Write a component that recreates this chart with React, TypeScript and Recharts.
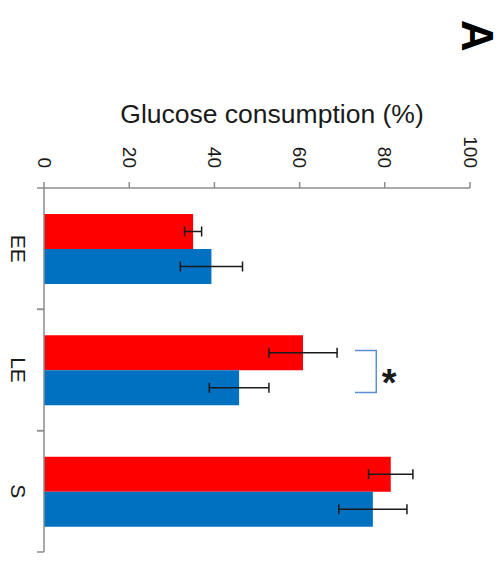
import { Bar, BarChart, ErrorBar, LabelList, XAxis, YAxis } from "recharts";

// values (percent of glucose consumed)
const categories = ["EE", "LE", "S"];
const redValues = [35, 60.8, 81.4];
const redErrors = [2, 8, 5.2];
const blueValues = [39.3, 45.8, 77.2];
const blueErrors = [7.3, 7, 8];
const significance = ["", "*", ""];
const xTicks = [0, 20, 40, 60, 80, 100];

const data = categories.map((name, i) => ({
  name,
  red: redValues[i],
  redErr: redErrors[i],
  blue: blueValues[i],
  blueErr: blueErrors[i],
  sig: significance[i],
}));

const FONT = "'Liberation Sans', Arial, Helvetica, sans-serif";
const AXIS = "#8c8c8c";
const INK = "#1a1a1a";

// tick labels are turned a quarter clockwise, as in the figure
function ValueTick({ x, y, payload }: any) {
  return (
    <text
      x={x}
      y={y}
      transform={`rotate(90, ${x}, ${y})`}
      textAnchor="end"
      dominantBaseline="central"
      fontSize={19}
      fill={INK}
      fontFamily={FONT}
    >
      {payload.value}
    </text>
  );
}

// category label + small tick marks on the band edges
function CategoryTick({ x, y, payload }: any) {
  const half = payload.offset ?? 0;
  const lx = x - 26;
  return (
    <g>
      <line x1={x - 7} x2={x} y1={y - half} y2={y - half} stroke={AXIS} strokeWidth={1.5} />
      <line x1={x - 7} x2={x} y1={y + half} y2={y + half} stroke={AXIS} strokeWidth={1.5} />
      <text
        x={lx}
        y={y}
        transform={`rotate(90, ${lx}, ${y})`}
        textAnchor="middle"
        dominantBaseline="central"
        fontSize={21}
        fill={INK}
        fontFamily={FONT}
      >
        {payload.value}
      </text>
    </g>
  );
}

function TitleLabel({ viewBox }: any) {
  const cx = viewBox.x + viewBox.width / 2 + 15;
  return (
    <text x={cx} y={123} textAnchor="middle" fontSize={26.5} fill={INK} fontFamily={FONT}>
      Glucose consumption (%)
    </text>
  );
}

// bracket + asterisk drawn next to the blue bar of a significant group
function SigBracket(props: any) {
  const { x, y, width, height, value, index } = props;
  if (!value) return null;
  const perUnit = width / blueValues[index];
  const left = x + 73 * perUnit;
  const right = x + 78 * perUnit;
  const top = y - height * 0.57;
  const bottom = y + height * 0.63;
  return (
    <g>
      <polyline
        points={`${left},${top} ${right},${top} ${right},${bottom} ${left},${bottom}`}
        fill="none"
        stroke="#5b8fd0"
        strokeWidth={1.5}
      />
      <text
        x={x + 81 * perUnit}
        y={y + 26}
        textAnchor="middle"
        fontSize={38}
        fontWeight="bold"
        fill={INK}
        fontFamily={FONT}
      >
        {value}
      </text>
    </g>
  );
}

export default function App() {
  return (
    <div style={{ position: "absolute", left: 0, top: 0, width: 502, height: 563, background: "#fff" }}>
      <BarChart
        width={502}
        height={563}
        layout="vertical"
        data={data}
        margin={{ top: 130, right: 32, bottom: 11, left: 8 }}
        barGap={0}
        barSize={35}
      >
        <XAxis
          type="number"
          orientation="top"
          domain={[0, 100]}
          ticks={xTicks}
          height={58}
          tickSize={6}
          tickMargin={14}
          axisLine={{ stroke: AXIS, strokeWidth: 1.5 }}
          tickLine={{ stroke: AXIS, strokeWidth: 1.5 }}
          tick={<ValueTick />}
          label={{ value: "Glucose consumption (%)", content: TitleLabel }}
        />
        <YAxis
          type="category"
          dataKey="name"
          width={36}
          tickSize={0}
          tickMargin={0}
          tickLine={false}
          axisLine={{ stroke: AXIS, strokeWidth: 1.5 }}
          tick={<CategoryTick />}
        />
        <Bar dataKey="red" fill="#ff0000" isAnimationActive={false}>
          <ErrorBar dataKey="redErr" direction="x" width={5} stroke={INK} strokeWidth={1.5} />
        </Bar>
        <Bar dataKey="blue" fill="#0070c0" isAnimationActive={false}>
          <ErrorBar dataKey="blueErr" direction="x" width={5} stroke={INK} strokeWidth={1.5} />
          <LabelList dataKey="sig" content={SigBracket} />
        </Bar>
      </BarChart>
      <div
        style={{
          position: "absolute",
          left: 477,
          top: 36,
          transform: "translate(-50%, -50%) rotate(90deg)",
          fontFamily: FONT,
          fontWeight: "bold",
          fontSize: 44,
          lineHeight: 1,
          color: "#000",
        }}
      >
        A
      </div>
    </div>
  );
}
